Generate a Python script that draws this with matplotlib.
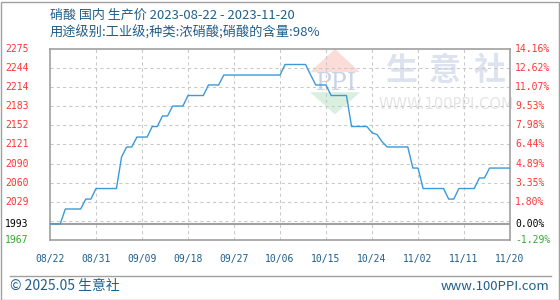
import numpy as np
import pandas as pd
import matplotlib
matplotlib.use("Agg")
import matplotlib.pyplot as plt
import matplotlib.transforms as mtransforms
from matplotlib.patches import Polygon, Rectangle

FIG_W, FIG_H = 560, 300
DPI = 100

start_date = "2023-08-22"
# daily price, 2023-08-22 .. 2023-11-20
prices = [
    1993, 1993, 1993, 2017, 2017, 2017, 2017, 2033, 2033, 2050,
    2050, 2050, 2050, 2050, 2101, 2117, 2117, 2133, 2133, 2133,
    2150, 2150, 2167, 2167, 2183, 2183, 2183, 2200, 2200, 2200,
    2200, 2217, 2217, 2217, 2233, 2233, 2233, 2233, 2233, 2233,
    2233, 2233, 2233, 2233, 2233, 2233, 2250, 2250, 2250, 2250,
    2250, 2233, 2217, 2217, 2217, 2200, 2200, 2200, 2200, 2150,
    2150, 2150, 2150, 2140, 2137, 2125, 2117, 2117, 2117, 2117,
    2117, 2083, 2083, 2050, 2050, 2050, 2050, 2050, 2033, 2033,
    2050, 2050, 2050, 2050, 2067, 2067, 2083, 2083, 2083, 2083,
    2083,
]

base_price = 1993
y_min, y_max = 1967, 2275
left_values = [2275, 2244.2, 2213.4, 2182.6, 2151.8, 2121, 2090.2, 2059.4, 2028.6, 1993, 1967]
left_labels = ["2275", "2244", "2214", "2183", "2152", "2121", "2090", "2060", "2029", "1993", "1967"]
right_labels = ["14.16%", "12.62%", "11.07%", "9.53%", "7.98%", "6.44%", "4.89%",
                "3.35%", "1.80%", "0.00%", "-1.29%"]

title1 = "硝酸 国内 生产价 2023-08-22 - 2023-11-20"
title2 = "用途级别:工业级;种类:浓硝酸;硝酸的含量:98%"
footer_left = "© 2025.05 生意社"
footer_right = "www.100PPI.com"

TEXT_BLUE = "#1f5f8b"
LINE_BLUE = "#3a9ad9"
GRAY = "#a0a0a0"
CJK = ["Noto Sans CJK SC", "DejaVu Sans"]


def px(x, y):
    # pixel position -> figure fraction
    return x / FIG_W, 1 - y / FIG_H


def label_color(v):
    if v > base_price:
        return "#ff3333"
    if v < base_price:
        return "#33aa33"
    return "black"


def add_watermark(ax):
    # faint 100ppi logo behind the line
    def af(x, y):
        return (x - 50) / 460, (240 - y) / 190
    red = Polygon([af(310, 73), af(335, 50), af(360, 73)], closed=True,
                  transform=ax.transAxes, color="#fbdcd8", zorder=0, lw=0)
    green = Polygon([af(310, 93), af(360, 93), af(335, 115)], closed=True,
                    transform=ax.transAxes, color="#d9efdf", zorder=0, lw=0)
    ax.add_patch(red)
    ax.add_patch(green)
    ax.text(*af(336, 84), "PPI", transform=ax.transAxes, ha="center", va="center",
            fontsize=17, family="DejaVu Serif", color="#c9d3e6", zorder=0)
    for ch, cx in zip("生意社", [401, 445, 490]):
        ax.text(*af(cx, 72), ch, transform=ax.transAxes, ha="center", va="center",
                fontsize=23, family=CJK, weight="bold", color="#dde3ee", zorder=0)
    ax.text(*af(446, 105), "WWW.100PPI.COM", transform=ax.transAxes, ha="center",
            va="center", fontsize=10.5, family="DejaVu Sans", color="#e4e4e4", zorder=0)


def graph_price():
    dates = pd.date_range(start_date, periods=len(prices), freq="D")
    days = np.arange(len(prices))

    fig = plt.figure(figsize=(FIG_W / DPI, FIG_H / DPI), dpi=DPI)
    fig.patch.set_facecolor("white")
    x0, y0 = px(50, 240)
    x1, y1 = px(510, 49)
    ax = fig.add_axes([x0, y0, x1 - x0, y1 - y0])

    add_watermark(ax)

    ax.plot(days, prices, color=LINE_BLUE, lw=1.0, zorder=3)
    ax.set_xlim(0, len(prices) - 1)
    ax.set_ylim(y_min, y_max)

    # grids
    grid_y = np.linspace(y_min, y_max, 11)[1:-1]
    ax.hlines(grid_y, 0, len(prices) - 1, colors="#c8c8c8", lw=0.75,
              linestyles=(0, (3, 3)), zorder=1)
    tick_days = days[::9]
    ax.vlines(tick_days[1:-1], y_min, y_max, colors="#c8c8c8", lw=0.75,
              linestyles=(0, (3, 3)), zorder=1)
    ax.axhline(base_price, color=GRAY, lw=1.5, zorder=2)

    for s in ax.spines.values():
        s.set_color(GRAY)
        s.set_linewidth(1.2)

    ax.set_xticks(tick_days)
    ax.set_xticklabels([d.strftime("%m/%d") for d in dates[::9]])
    ax.tick_params(axis="x", length=0, pad=10, labelsize=7, labelcolor=TEXT_BLUE)
    for t in ax.get_xticklabels():
        t.set_family("DejaVu Sans Mono")
    ax.set_yticks([])

    trans = mtransforms.blended_transform_factory(ax.transAxes, ax.transData)
    for v, l, r in zip(left_values, left_labels, right_labels):
        c = label_color(v)
        ax.text(-0.098, v, l, transform=trans, ha="left", va="center",
                fontsize=7, family="DejaVu Sans Mono", color=c)
        ax.text(1.011, v, r, transform=trans, ha="left", va="center",
                fontsize=7, family="DejaVu Sans Mono", color=c)

    # titles and footer
    fig.text(*px(50, 15), title1, ha="left", va="center", fontsize=9.4,
             family=CJK, color=TEXT_BLUE)
    fig.text(*px(50, 33), title2, ha="left", va="center", fontsize=9.5,
             family=CJK, color=TEXT_BLUE)
    fig.text(*px(10, 286), footer_left, ha="left", va="center", fontsize=10,
             family=CJK, color=TEXT_BLUE)
    fig.text(*px(549, 286), footer_right, ha="right", va="center", fontsize=9.5,
             family=CJK, color=TEXT_BLUE)
    lx0, ly = px(10, 275.5)
    lx1, _ = px(551, 275.5)
    fig.add_artist(plt.Line2D([lx0, lx1], [ly, ly], color=GRAY, lw=1))
    fig.add_artist(Rectangle((0.5 / FIG_W, 0.5 / FIG_H), 1 - 2 / FIG_W, 1 - 2 / FIG_H,
                             fill=False, edgecolor=GRAY, lw=1))
    return fig


if __name__ == "__main__":
    f = graph_price()
    f.savefig("out.png", dpi=DPI)
